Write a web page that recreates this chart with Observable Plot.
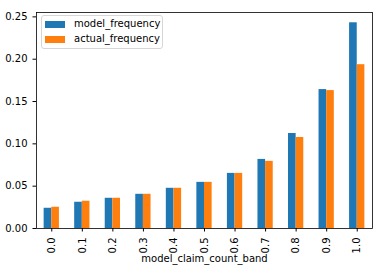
<!DOCTYPE html>
<html>
<head>
<meta charset="utf-8">
<script src="https://cdn.jsdelivr.net/npm/d3@7"></script>
<script src="https://cdn.jsdelivr.net/npm/@observablehq/plot@0.6"></script>
<style>
  html, body { margin: 0; padding: 0; background: #fff; }
  #wrap { position: relative; width: 381px; height: 273px; font-family: "DejaVu Sans", sans-serif; }
  #legend { position: absolute; left: 41px; top: 15px; width: 122px; height: 34px; box-sizing: border-box;
            border: 1px solid #d6d6d6; border-radius: 3px; background: rgba(255,255,255,0.8); font-size: 10px; color: #000; }
  .item { position: absolute; left: 3px; height: 12px; }
  .sw { position: absolute; left: 0; width: 20px; height: 7px; }
  .lb { position: absolute; left: 29px; top: -3px; white-space: nowrap; line-height: 12px; }
</style>
</head>
<body>
<div id="wrap"></div>
<script>
const categories = ["0.0","0.1","0.2","0.3","0.4","0.5","0.6","0.7","0.8","0.9","1.0"];
const modelFrequency  = [0.0239, 0.0310, 0.0357, 0.0404, 0.0475, 0.0545, 0.0651, 0.0816, 0.1122, 0.1641, 0.2430];
const actualFrequency = [0.0251, 0.0322, 0.0357, 0.0404, 0.0475, 0.0545, 0.0651, 0.0793, 0.1075, 0.1629, 0.1935];
const seriesNames = ["model_frequency", "actual_frequency"];
const seriesColors = ["#1f77b4", "#ff7f0e"];
const yTicks = [0, 0.05, 0.10, 0.15, 0.20, 0.25];

const data = categories.flatMap((c, i) => [
  {i, cat: c, series: seriesNames[0], value: modelFrequency[i]},
  {i, cat: c, series: seriesNames[1], value: actualFrequency[i]}
]);
const barW = 0.25;
const yMax = Math.max(...modelFrequency, ...actualFrequency) * 1.05;

const chart = Plot.plot({
  width: 381,
  height: 273,
  marginLeft: 36,
  marginRight: 9,
  marginTop: 12,
  marginBottom: 45,
  style: {fontFamily: "DejaVu Sans, sans-serif", fontSize: "10px", color: "#000", background: "#fff"},
  x: {
    domain: [-0.5, categories.length - 0.5],
    ticks: d3.range(categories.length),
    tickFormat: i => categories[i],
    tickRotate: -90,
    tickSize: 3.5,
    label: "model_claim_count_band",
    labelAnchor: "center",
    labelArrow: "none",
    labelOffset: 33
  },
  y: {
    domain: [0, yMax],
    ticks: yTicks,
    tickFormat: d3.format(".2f"),
    tickSize: 3.5,
    label: null
  },
  color: {domain: seriesNames, range: seriesColors},
  marks: [
    Plot.rectY(data, {
      x1: d => d.i + (d.series === seriesNames[0] ? -barW : 0),
      x2: d => d.i + (d.series === seriesNames[0] ? 0 : barW),
      y1: 0,
      y2: "value",
      fill: "series"
    }),
    Plot.frame({stroke: "#000", strokeWidth: 0.8})
  ]
});
document.getElementById("wrap").appendChild(chart);

const legend = document.createElement("div");
legend.id = "legend";
seriesNames.forEach((name, k) => {
  const item = document.createElement("div");
  item.className = "item";
  item.style.top = (5 + k * 15) + "px";
  const sw = document.createElement("div");
  sw.className = "sw";
  sw.style.background = seriesColors[k];
  const lb = document.createElement("div");
  lb.className = "lb";
  lb.textContent = name;
  item.appendChild(sw);
  item.appendChild(lb);
  legend.appendChild(item);
});
document.getElementById("wrap").appendChild(legend);
</script>
</body>
</html>
